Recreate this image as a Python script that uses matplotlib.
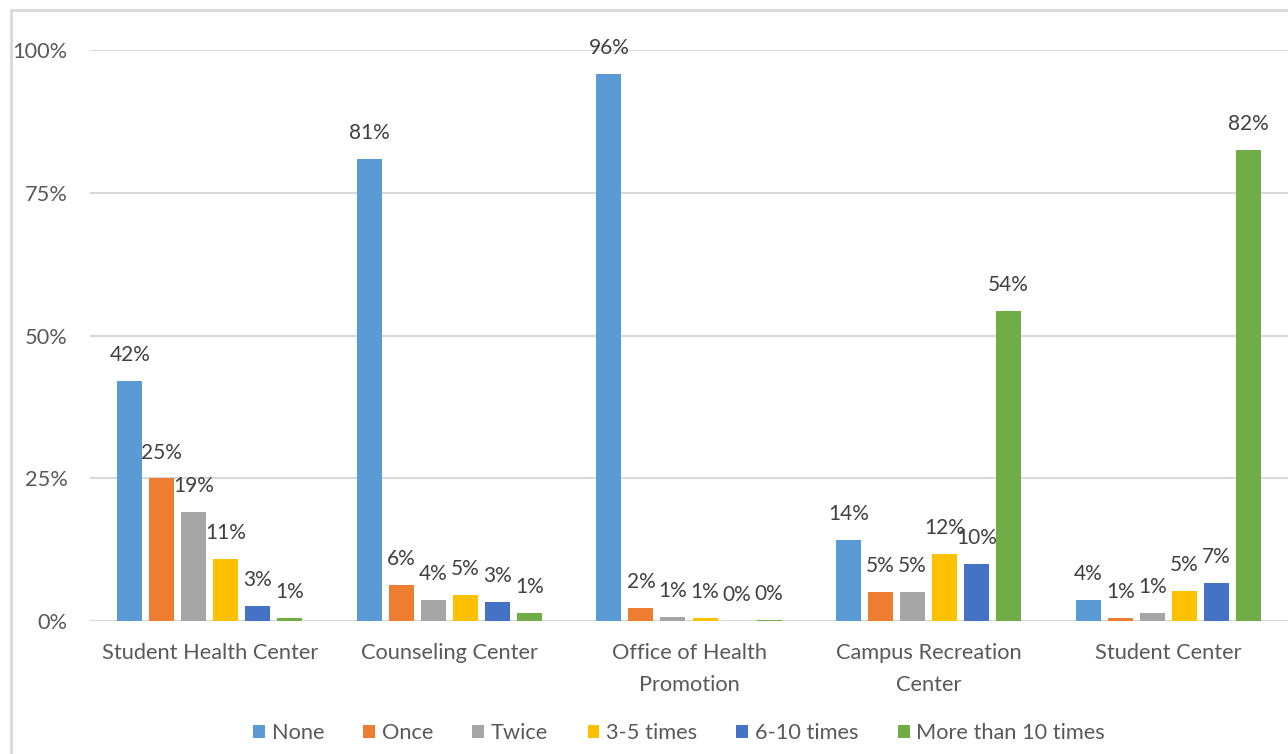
import matplotlib
matplotlib.use("Agg")
import matplotlib.pyplot as plt
from matplotlib.patches import Rectangle, Patch
import numpy as np

plt.rcParams["font.family"] = ["Lato", "DejaVu Sans"]

categories = [
    "Student Health Center",
    "Counseling Center",
    "Office of Health\nPromotion",
    "Campus Recreation\nCenter",
    "Student Center",
]
series_names = ["None", "Once", "Twice", "3-5 times", "6-10 times", "More than 10 times"]
colours = ["#5B9BD5", "#ED7D31", "#A5A5A5", "#FFC000", "#4472C4", "#70AD47"]

# share of respondents per centre, one list per visit-frequency series
none_vals = [0.420, 0.809, 0.958, 0.142, 0.037]
once_vals = [0.250, 0.063, 0.023, 0.051, 0.006]
twice_vals = [0.191, 0.037, 0.007, 0.051, 0.014]
three_five_vals = [0.109, 0.046, 0.006, 0.117, 0.053]
six_ten_vals = [0.026, 0.033, 0.000, 0.100, 0.067]
more_ten_vals = [0.006, 0.014, 0.002, 0.543, 0.825]
series_vals = [none_vals, once_vals, twice_vals, three_five_vals, six_ten_vals, more_ten_vals]

W, H = 1288, 754
FS = 15.7
fig = plt.figure(figsize=(W / 100, H / 100), dpi=100)
ax = fig.add_axes([90 / W, 1 - 621 / H, (W - 90) / W, (621 - 50) / H])

x = np.arange(len(categories))
pitch = 32 / 239.5
width = 25 / 239.5

for i, (name, vals, col) in enumerate(zip(series_names, series_vals, colours)):
    pos = x + (i - 2.5) * pitch
    bars = ax.bar(pos, vals, width=width, color=col, label=name, zorder=3)
    for b, v in zip(bars, vals):
        ax.annotate(f"{v:.0%}", (b.get_x() + b.get_width() / 2, v),
                    xytext=(0, 18.5), textcoords="offset points",
                    ha="center", va="center", fontsize=15, color="#404040",
                    annotation_clip=False, zorder=4)

ax.set_xlim(-0.5, len(categories) - 0.5)
ax.set_ylim(0, 1.0)
ax.set_yticks([0, 0.25, 0.5, 0.75, 1.0])
ax.set_yticklabels(["0%", "25%", "50%", "75%", "100%"])
ax.set_xticks(x)
ax.set_xticklabels(categories, linespacing=1.75)
ax.tick_params(axis="both", length=0, labelsize=FS, labelcolor="#595959")
ax.tick_params(axis="y", pad=16)
ax.tick_params(axis="x", pad=16)
for lab in ax.get_xticklabels():
    lab.set_va("top")

ax.grid(axis="y", color="#D9D9D9", linewidth=1.5, zorder=0)
for s in ax.spines.values():
    s.set_visible(False)

handles = [Patch(facecolor=c, label=n) for n, c in zip(series_names, colours)]
fig.legend(handles=handles, loc="center", bbox_to_anchor=(679 / W, 1 - 733 / H),
           ncol=6, frameon=False, fontsize=FS, labelcolor="#595959",
           handlelength=0.55, handleheight=0.55, handletextpad=0.3,
           columnspacing=1.8)

# chart area border (right and bottom edges fall outside the picture)
fig.patches.append(Rectangle((11 / W, -0.1), 2.0, 1.1 - 10 / H,
                             transform=fig.transFigure, fill=False,
                             edgecolor="#D9D9D9", linewidth=2))

fig.savefig("out.png", dpi=100)
